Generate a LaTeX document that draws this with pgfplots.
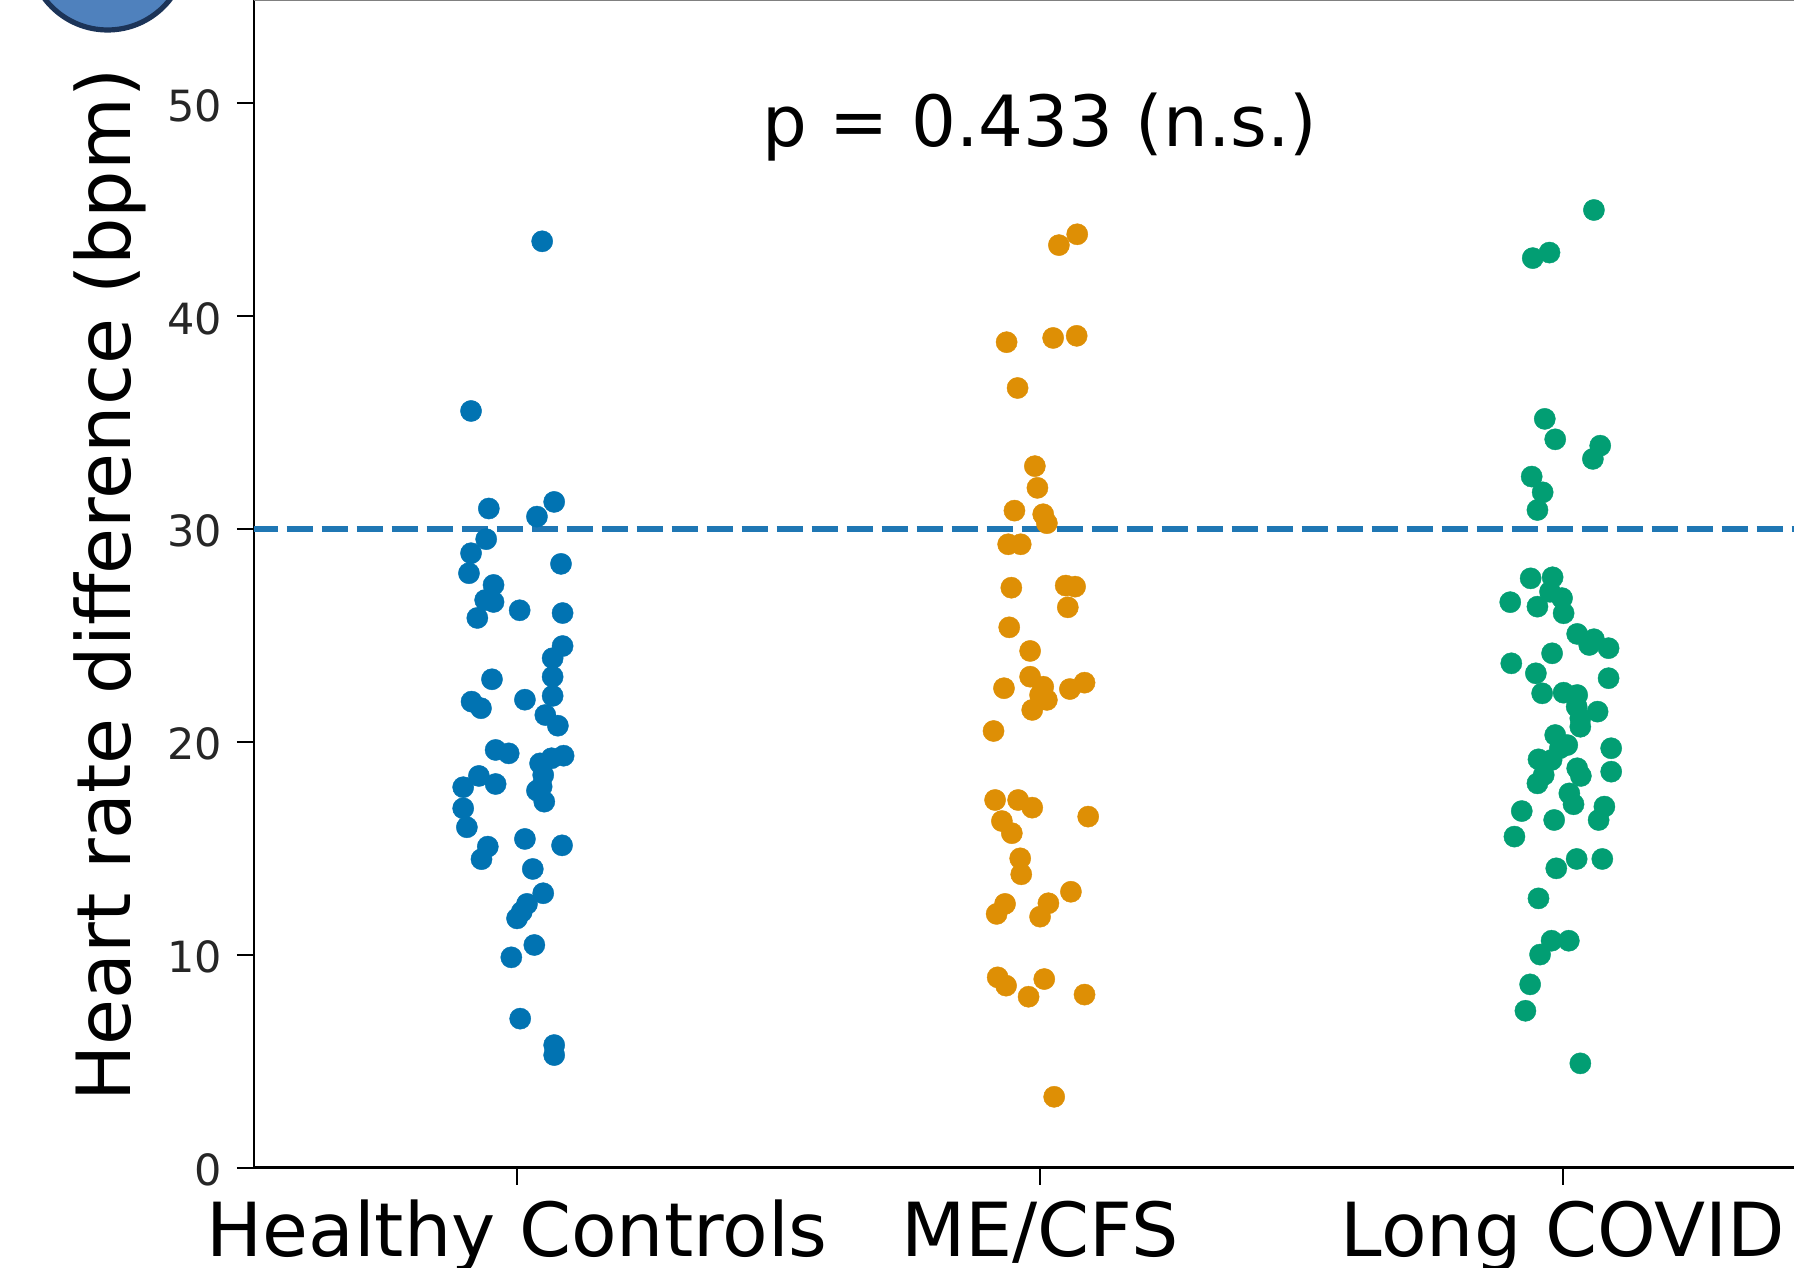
\documentclass[border=0pt]{standalone}
\usepackage{pgfplots}
\usepackage{pgfplotstable}
\usepackage{fontspec}
\setmainfont{DejaVu Sans}
\pgfplotsset{compat=1.18}
\definecolor{cblue}{HTML}{0173B2}
\definecolor{corange}{HTML}{DE8F05}
\definecolor{cgreen}{HTML}{029E73}
\definecolor{refline}{HTML}{1F77B4}
\pgfplotstableread{
x y
-0.088 35.54
-0.054 30.96
0.071 31.27
0.038 30.58
-0.059 29.52
-0.088 28.86
-0.092 27.92
0.084 28.36
-0.045 27.37
-0.061 26.66
-0.045 26.57
-0.076 25.82
0.005 26.18
0.087 26.05
0.087 24.50
0.068 23.93
0.068 23.06
-0.048 22.94
0.068 22.16
0.015 21.98
-0.087 21.89
-0.069 21.58
0.054 21.26
0.078 20.76
-0.041 19.62
-0.016 19.46
0.089 19.35
0.066 19.23
0.044 18.99
0.050 18.44
0.047 17.90
0.038 17.71
0.052 17.19
-0.073 18.40
-0.041 18.02
-0.103 17.87
-0.103 16.88
-0.096 15.99
-0.056 15.08
-0.068 14.49
0.015 15.44
0.086 15.14
0.030 14.03
0.050 12.89
0.019 12.39
0.009 12.02
0.000 11.71
0.033 10.46
-0.011 9.88
0.006 7.00
0.071 5.76
0.071 5.29
0.048 43.51
}\healthy
\pgfplotstableread{
x y
1.071 43.84
1.036 43.33
0.936 38.77
1.025 38.97
1.070 39.07
0.957 36.62
0.990 32.95
0.995 31.93
0.951 30.86
1.006 30.69
1.013 30.27
0.939 29.28
0.963 29.28
0.945 27.24
1.049 27.34
1.067 27.29
1.053 26.32
0.941 25.38
0.981 24.27
0.981 23.06
1.006 22.59
0.931 22.52
1.057 22.48
1.085 22.78
1.013 21.97
0.985 21.50
1.000 22.20
0.911 20.51
0.914 17.27
0.958 17.27
0.985 16.91
1.092 16.49
0.927 16.28
0.946 15.71
0.962 14.53
0.964 13.78
1.059 12.96
0.933 12.39
0.917 11.92
1.016 12.42
1.000 11.79
0.919 8.94
0.935 8.55
1.008 8.86
0.978 8.03
1.085 8.13
1.027 3.33
}\mecfs
\pgfplotstableread{
x y
2.059 44.98
1.974 42.98
1.942 42.72
1.965 35.17
1.985 34.21
2.071 33.91
2.057 33.29
1.940 32.46
1.961 31.72
1.951 30.89
1.938 27.68
1.980 27.73
1.975 27.05
1.998 26.75
1.951 26.35
1.899 26.56
2.001 26.04
2.027 25.07
2.050 24.55
2.059 24.82
2.087 24.40
1.979 24.16
1.901 23.69
1.948 23.22
2.087 22.99
1.960 22.28
2.001 22.31
2.027 22.20
2.026 21.65
2.066 21.42
2.033 21.11
2.033 20.71
1.985 20.32
2.008 19.85
1.994 19.70
2.092 19.70
1.953 19.18
1.978 19.15
1.963 18.44
2.027 18.76
2.034 18.40
2.092 18.60
1.951 18.05
2.012 17.58
2.020 17.07
2.079 16.96
1.921 16.75
2.068 16.33
1.983 16.33
1.907 15.55
2.026 14.50
2.075 14.50
1.987 14.06
1.953 12.65
1.956 10.01
1.978 10.66
2.011 10.66
1.937 8.61
1.928 7.37
2.033 4.90
}\longcovid
\begin{document}
\begin{tikzpicture}[x=1pt,y=1pt]
\useasboundingbox (0,0) rectangle (897,634);
\clip (0,0) rectangle (897,634);
\begin{axis}[
  at={(127pt,50.15pt)}, anchor=south west,
  scale only axis, width=784.5pt, height=583.6pt,
  xmin=-0.503, xmax=2.497, ymin=0, ymax=54.82,
  axis x line*=bottom, axis y line*=left,
  separate axis lines,
  x axis line style={line width=1.4pt,-},
  y axis line style={line width=1.1pt,-},
  xtick={0,1,2}, xticklabels={Healthy Controls,ME/CFS,Long COVID},
  ytick={0,10,20,30,40,50},
  tick align=outside, major tick length=8.5pt,
  tick style={black,line width=0.9pt},
  /pgf/number format/assume math mode=true,
  yticklabel style={font=\fontsize{21.5}{26}\selectfont,text=black!85,xshift=-4pt,yshift=-1.2pt},
  xticklabel style={font=\fontsize{37.3}{44}\selectfont,anchor=base,yshift=-36pt},
  ylabel={Heart rate difference (bpm)},
  every axis y label/.style={at={(rel axis cs:-0.079,0.499)},rotate=90,anchor=base,font=\fontsize{37.4}{44}\selectfont},
  clip mode=individual,
]
\addplot[refline,line width=2.8pt,dash pattern=on 13pt off 4.5pt,dash phase=1.15pt] coordinates {(-0.503,30) (2.497,30)};
\addplot[only marks,color=cblue,mark=*,mark size=5.3pt,mark options={draw=cblue,fill=cblue,line width=0.2pt}] table[x=x,y=y] {\healthy};
\addplot[only marks,color=corange,mark=*,mark size=5.3pt,mark options={draw=corange,fill=corange,line width=0.2pt}] table[x=x,y=y] {\mecfs};
\addplot[only marks,color=cgreen,mark=*,mark size=5.3pt,mark options={draw=cgreen,fill=cgreen,line width=0.2pt}] table[x=x,y=y] {\longcovid};
\node[anchor=base,font=\fontsize{35.3}{43}\selectfont] at (axis cs:1,47.97) {p = 0.433 (n.s.)};
\end{axis}
\draw[gray,line width=1pt] (127,633.8) -- (897,633.8);
\draw[fill={rgb,255:red,79;green,129;blue,189},draw={rgb,255:red,28;green,52;blue,88},line width=2.6pt] (53.8,658.5) circle (39.5);
\end{tikzpicture}
\end{document}
